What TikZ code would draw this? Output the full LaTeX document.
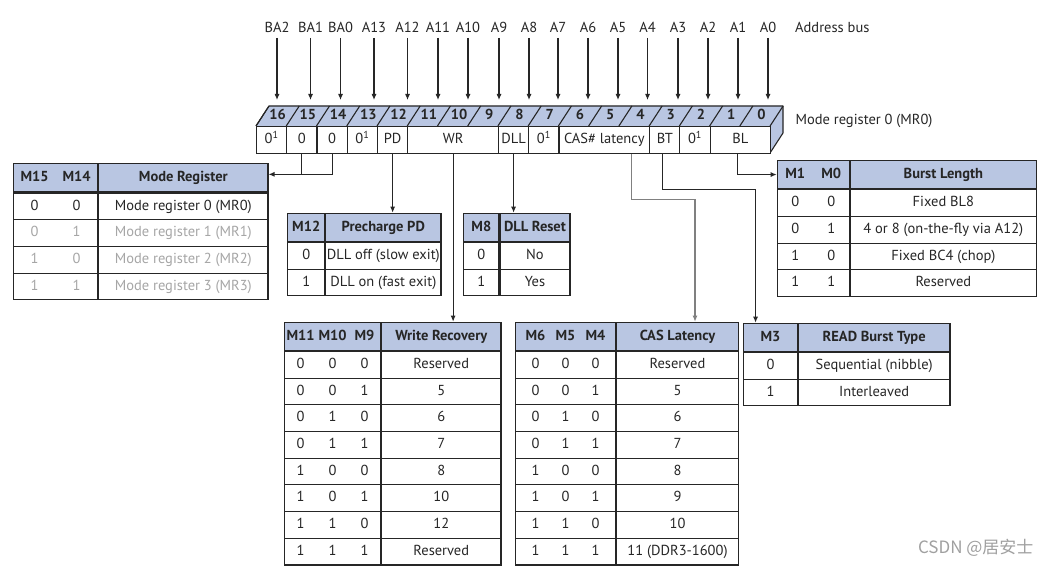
\documentclass[tikz,border=0pt]{standalone}
\usepackage{fontspec}
\setmainfont{PT Sans}
\newfontfamily\cjk{Noto Sans CJK SC}
\usetikzlibrary{arrows.meta,positioning}
\definecolor{ink}{HTML}{262626}
\definecolor{hdr}{HTML}{B9C6E2}
\definecolor{faded}{HTML}{A6A6A6}
\definecolor{wire}{HTML}{808080}
\definecolor{mark}{HTML}{A0A0A0}
\newlength\kw
\newcommand\kb[1]{\makebox[\kw]{#1}}
\newcommand\fd{\color{faded}}
\newcommand\one{0\textsuperscript{1}}
% name, top left, key width, value width, key pitch, key head, value head, rows
\newcommand\modetable[8]{%
  \setlength\kw{#5}%
  \node[hcell, minimum width=#3] (#1K) at #2 {#6};
  \node[hcell, minimum width=#4] (#1H) at (#1K.north east) {#7};
  \foreach \k/\v [count=\i] in {#8}{
    \node[cell, minimum width=#3] (#1k\i) at ([yshift={-(\i-1)*26.7pt}]#1K.south west) {\k};
    \node[cell, minimum width=#4] (#1v\i) at (#1k\i.north east) {\v};
  }}

\begin{document}
\begin{tikzpicture}[x=1pt, y=-1pt,
    txt/.style={font=\fontsize{14.5}{16}\selectfont, text=ink, text height=10.5pt, text depth=3pt},
    cell/.style={txt, draw=ink, line width=1.1pt, minimum height=26.7pt, inner sep=0pt, anchor=north west},
    hcell/.style={cell, fill=hdr, minimum height=28pt, font=\fontsize{14.5}{16}\selectfont\bfseries},
    field/.style={cell, fill=white, minimum height=27pt},
    bitnum/.style={txt, font=\fontsize{14.5}{16}\selectfont\bfseries, inner sep=0pt},
    addr/.style={txt, inner sep=2pt},
    wireline/.style={draw=ink, line width=1.1pt},
    arr/.style={wireline, -{Latex[length=6pt,width=5pt]}}]
  \useasboundingbox[fill=white] (0,0) rectangle (1052,567);

  % address bus
  \coordinate (top) at (0,100);
  \foreach \lab/\x [count=\i] in {BA2/277, BA1/310.5, BA0/340.5, A13/374, A12/407.5, A11/438, A10/468, A9/499,
      A8/529, A7/558, A6/588, A5/618, A4/647.5, A3/678, A2/708, A1/738, A0/768}{
    \node[addr] (a\i) at (\x,29) {\lab};
    \draw[arr] (a\i) -- (a\i |- top);
  }
  \node[addr, anchor=west] (bus) at (793,29) {Address bus};

  % register MR0
  \fill[hdr] (256,126) -- (269,106) -- (783,106) -- (783,133) -- (770,153) -- (770,126) -- cycle;
  \draw[wireline, line join=round] (256,126) -- (269,106) -- (783,106) -- (783,133) -- (770,153);
  \foreach \b in {0,...,17}
    \draw[wireline] ({256+\b*30.24},126) -- ++(13,-20);
  \foreach \b in {0,...,16}
    \node[bitnum] (t\b) at ({256+(16.5-\b)*30.24+6.5},116) {\b};
  \foreach \hi/\lo/\lab in {16/16/\one, 15/15/0, 14/14/0, 13/13/\one, 12/12/PD, 11/9/WR, 8/8/DLL,
      7/7/\one, 6/4/CAS\# latency, 3/3/BT, 2/2/\one, 1/0/BL}
    \node[field, minimum width={(\hi-\lo+1)*30.24pt}] (f\hi) at ({256+(16-\hi)*30.24},126) {\lab};
  \node[txt, anchor=west] (mr0) at (792,121) {Mode register 0 (MR0)};

  % tables
  \modetable{mr}{(13,163.3)}{79.7pt}{169.3pt}{42pt}{\kb{M15}\kb{M14}}{Mode Register}
    {\kb0\kb0/Mode register 0 (MR0), \fd\kb0\kb1/\fd Mode register 1 (MR1),
     \fd\kb1\kb0/\fd Mode register 2 (MR2), \fd\kb1\kb1/\fd Mode register 3 (MR3)}
  \modetable{pd}{(287.3,212.7)}{36.7pt}{115.3pt}{30pt}{\kb{M12}}{Precharge PD}
    {\kb0/DLL off (slow exit), \kb1/DLL on (fast exit)}
  \modetable{dl}{(463.3,212.7)}{35pt}{70pt}{30pt}{\kb{M8}}{DLL Reset}
    {\kb0/No, \kb1/Yes}
  \modetable{wr}{(284,321.7)}{96pt}{119.3pt}{32pt}{\kb{M11}\kb{M10}\kb{M9}}{Write Recovery}
    {\kb0\kb0\kb0/Reserved, \kb0\kb0\kb1/5, \kb0\kb1\kb0/6, \kb0\kb1\kb1/7,
     \kb1\kb0\kb0/8, \kb1\kb0\kb1/10, \kb1\kb1\kb0/12, \kb1\kb1\kb1/Reserved}
  \modetable{cl}{(515,321.7)}{100pt}{121.7pt}{30pt}{\kb{M6}\kb{M5}\kb{M4}}{CAS Latency}
    {\kb0\kb0\kb0/Reserved, \kb0\kb0\kb1/5, \kb0\kb1\kb0/6, \kb0\kb1\kb1/7,
     \kb1\kb0\kb0/8, \kb1\kb0\kb1/9, \kb1\kb1\kb0/10, \kb1\kb1\kb1/11 (DDR3-1600)}
  \modetable{bl}{(776.7,160)}{66.6pt}{186pt}{36pt}{\kb{M1}\kb{M0}}{Burst Length}
    {\kb0\kb0/Fixed BL8, \kb0\kb1/4 or 8 (on-the-fly via A12),
     \kb1\kb0/Fixed BC4 (chop), \kb1\kb1/Reserved}
  \modetable{rb}{(743.3,322.7)}{53.4pt}{151.6pt}{30pt}{\kb{M3}}{READ Burst Type}
    {\kb0/Sequential (nibble), \kb1/Interleaved}

  % connectors
  \coordinate (j) at ([yshift=3.5pt]mrH.east);
  \draw[wireline] (f15.south) -- (f15.south |- j);
  \draw[arr] (f14.south) |- (j);
  \draw[arr] (f12.south) -- (f12.south |- pdH.north);
  \draw[arr] (f8.south) -- (f8.south |- dlH.north);
  \draw[arr] (f11.south) -- (f11.south |- wrH.north);
  \draw[arr, draw=wire] ([xshift=27pt]f6.south) -- ++(0,45) -| ([xshift=17.5pt]clH.north);
  \draw[arr] ([xshift=-2.5pt]f3.south) -- ++(0,35) -| ([xshift=-15pt]rbK.north);
  \draw[arr] ([xshift=-2.5pt]f1.south) |- (blK.west);

  \node[anchor=east, text=mark, font=\cjk\fontsize{17}{19}\selectfont] (wm) at (1037,548) {CSDN @居安士};
\end{tikzpicture}
\end{document}
